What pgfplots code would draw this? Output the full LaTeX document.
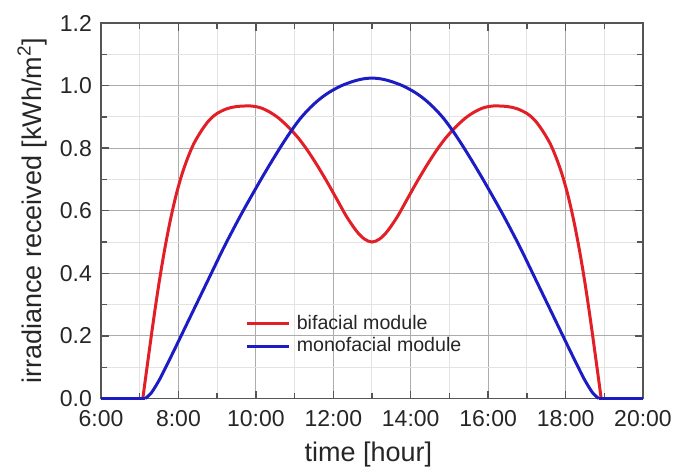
\documentclass[border=0pt]{standalone}
\usepackage{fontspec}
\setmainfont{Liberation Sans}
\usepackage{pgfplots}
\pgfplotsset{compat=1.18}
\definecolor{bifred}{RGB}{226,30,38}
\definecolor{monoblue}{RGB}{28,28,196}
\definecolor{framegray}{RGB}{85,85,85}

\begin{document}
\begin{tikzpicture}
\begin{axis}[
  scale only axis, width=271pt, height=187.75pt,
  xmin=6, xmax=20, ymin=0, ymax=1.2,
  xtick={6,8,10,12,14,16,18,20},
  xticklabels={6:00,8:00,10:00,12:00,14:00,16:00,18:00,20:00},
  ytick={0,0.2,0.4,0.6,0.8,1.0,1.2},
  minor x tick num=1, minor y tick num=1,
  yticklabel style={/pgf/number format/fixed, /pgf/number format/fixed zerofill,
    /pgf/number format/precision=1, /pgf/number format/assume math mode=true, xshift=-1pt},
  tick label style={font=\fontsize{11.5pt}{13pt}\selectfont, text=black!85},
  xticklabel style={yshift=-2.5pt},
  xlabel={time [hour]}, ylabel={irradiance received [kWh/m\textsuperscript{2}]},
  label style={font=\fontsize{13.5pt}{15pt}\selectfont, text=black!85},
  xlabel style={at={(axis description cs:0.4935,-0.148)}, anchor=center},
  ylabel style={at={(axis description cs:-0.127,0.5)}, anchor=center},
  grid=both,
  major grid style={gray!65, line width=0.5pt},
  minor grid style={gray!22, line width=0.5pt},
  axis line style={framegray, line width=0.9pt},
  major tick length=4pt, minor tick length=3pt,
  tick style={framegray, line width=0.7pt},
  clip=false,
  legend style={draw=none, fill=none, at={(0.255,0.237)}, anchor=north west,
                font=\fontsize{9.8pt}{11pt}\selectfont, text=black!85,
                nodes={inner sep=0.6pt}, row sep=1.5pt},
  legend cell align=left,
  legend image code/.code={\draw[#1] (0pt,0pt) -- (21pt,0pt); \path (23.5pt,0pt);},
]
\addplot[bifred, line width=1.5pt, smooth, tension=0.5] coordinates {
  (7.08,0) (7.2,0.11) (7.35,0.245) (7.5,0.37) (7.65,0.48) (7.8,0.575)
  (7.95,0.655) (8.1,0.72) (8.25,0.772) (8.4,0.815) (8.6,0.857) (8.8,0.89)
  (9.0,0.911) (9.25,0.926) (9.5,0.933) (9.85,0.935) (10.1,0.93) (10.35,0.916)
  (10.6,0.895) (10.85,0.866) (11.1,0.832) (11.35,0.79) (11.6,0.742) (11.85,0.69)
  (12.1,0.635) (12.35,0.58) (12.6,0.535) (12.8,0.51) (13.0,0.5)
  (13.2,0.51) (13.4,0.535) (13.65,0.58) (13.9,0.635) (14.15,0.69) (14.4,0.742)
  (14.65,0.79) (14.9,0.832) (15.15,0.866) (15.4,0.895) (15.65,0.916) (15.9,0.93)
  (16.15,0.935) (16.5,0.933) (16.75,0.926) (17.0,0.911) (17.2,0.89) (17.4,0.857)
  (17.6,0.815) (17.75,0.772) (17.9,0.72) (18.05,0.655) (18.2,0.575) (18.35,0.48)
  (18.5,0.37) (18.65,0.245) (18.8,0.11) (18.92,0)
};
\addlegendentry{bifacial module}
\addplot[monoblue, line width=1.5pt, smooth, tension=0.5] coordinates {
  (7.14,0) (7.3,0.018) (7.5,0.058) (7.65,0.094) (7.9,0.157) (8.15,0.221)
  (8.4,0.285) (8.65,0.349) (8.9,0.413) (9.15,0.477) (9.4,0.537) (9.65,0.595)
  (9.9,0.65) (10.15,0.704) (10.4,0.756) (10.65,0.806) (10.9,0.853) (11.15,0.895)
  (11.4,0.929) (11.65,0.957) (11.9,0.979) (12.2,0.999) (12.5,1.013) (12.75,1.021)
  (13.0,1.024)
  (13.25,1.021) (13.5,1.013) (13.8,0.999) (14.1,0.979) (14.35,0.957) (14.6,0.929)
  (14.85,0.895) (15.1,0.853) (15.35,0.806) (15.6,0.756) (15.85,0.704) (16.1,0.65)
  (16.35,0.595) (16.6,0.537) (16.85,0.477) (17.1,0.413) (17.35,0.349) (17.6,0.285)
  (17.85,0.221) (18.1,0.157) (18.35,0.094) (18.5,0.058) (18.7,0.018) (18.86,0)
};
\addlegendentry{monofacial module}
\addplot[monoblue, line width=1.5pt, forget plot] coordinates {(6,0) (7.14,0)};
\addplot[monoblue, line width=1.5pt, forget plot] coordinates {(18.86,0) (20,0)};
\end{axis}
\path (-50.5pt,-35.25pt) rectangle (290pt,199.25pt);
\end{tikzpicture}
\end{document}
